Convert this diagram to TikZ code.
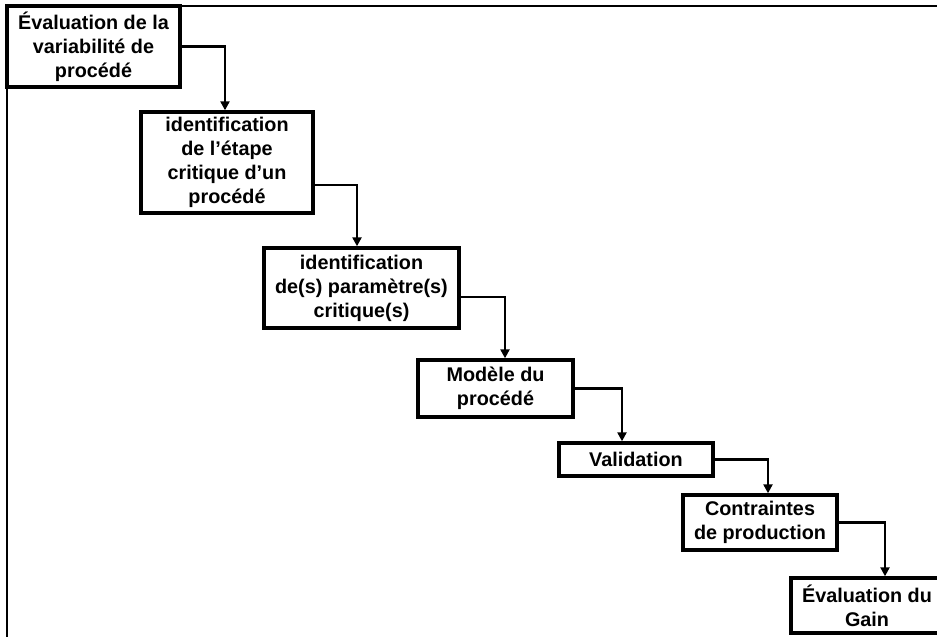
\documentclass[tikz,border=0pt]{standalone}
\usepackage{fontspec}
\setmainfont{Liberation Sans}
\usetikzlibrary{arrows.meta}
\begin{document}
\begin{tikzpicture}[x=1pt,y=1pt,
  box/.style={draw=black, line width=3.4pt, fill=white, inner sep=0pt, align=center,
    font=\fontsize{19.8}{24}\selectfont\bfseries},
  arr/.style={draw=black, line width=2.4pt, -{Triangle[length=9pt,width=9pt]}},
  frame/.style={draw=black, line width=2.6pt}]
\useasboundingbox (0,0) rectangle (937,-637);
\clip (0,0) rectangle (937,-637);
\fill[white] (0,0) rectangle (937,-637);
\coordinate (fa) at (7,-640);
\coordinate (fb) at (7,-6);
\coordinate (fc) at (940,-6);
\draw[frame] (fa) -- (fb) -- (fc);
\node[box, minimum width=173pt, minimum height=81pt] (b1) at (93.5,-46.5) {Évaluation de la\\variabilité de\\procédé};
\node[box, minimum width=172pt, minimum height=101pt] (b2) at (227,-162.5) {identification\\de l’étape\\critique d’un\\procédé};
\node[box, minimum width=195pt, minimum height=80pt] (b3) at (361.5,-288) {identification\\de(s) paramètre(s)\\critique(s)};
\node[box, minimum width=155pt, minimum height=57pt] (b4) at (495.5,-388.5) {Modèle du\\procédé};
\node[box, minimum width=154pt, minimum height=33pt] (b5) at (636,-459.5) {Validation};
\node[box, minimum width=154pt, minimum height=55pt] (b6) at (760,-522.5) {Contraintes\\de production};
\node[box, minimum width=152pt, minimum height=55pt] (b7) at (867,-605.5) {Évaluation du\\Gain};
\draw[arr] (b1.east) -| ([xshift=-2pt]b2.north);
\draw[arr] ([yshift=-22.5pt]b2.east) -| ([xshift=-4.5pt]b3.north);
\draw[arr] ([yshift=-9pt]b3.east) -| ([xshift=9.5pt]b4.north);
\draw[arr] (b4.east) -| ([xshift=-14pt]b5.north);
\draw[arr] (b5.east) -| ([xshift=8pt]b6.north);
\draw[arr] (b6.east) -| ([xshift=18pt]b7.north);
\end{tikzpicture}
\end{document}
